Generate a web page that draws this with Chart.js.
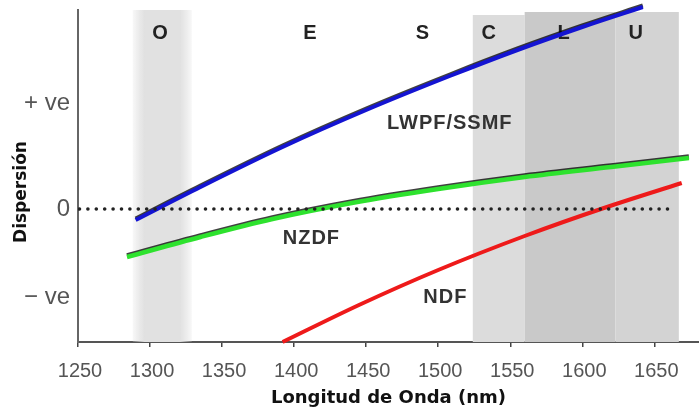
<!DOCTYPE html>
<html>
<head>
<meta charset="utf-8">
<script src="https://cdn.jsdelivr.net/npm/chart.js@4"></script>
<style>
  html, body { margin: 0; padding: 0; background: #fff; }
  #wrap { width: 699px; height: 410px; }
</style>
</head>
<body>
<div id="wrap"><canvas id="dispChart"></canvas></div>
<script>
// curves (x in nm, y in arbitrary dispersion units, 0 = zero line)
const lwpfX = [1290, 1335, 1392, 1450, 1508, 1555, 1600, 1642];
const lwpfY = [-1.1, 2.2, 6.2, 9.9, 13.3, 15.9, 18.2, 20.2];
const nzdfX = [1284, 1335, 1385, 1440, 1500, 1560, 1620, 1674];
const nzdfY = [-4.8, -2.8, -1.0, 0.6, 2.0, 3.2, 4.2, 5.1];
const ndfX = [1392, 1445, 1500, 1560, 1615, 1669];
const ndfY = [-13.3, -9.6, -6.1, -2.7, 0.1, 2.6];
const zeroX = [1251, 1663];

const xTicks = [1250, 1300, 1350, 1400, 1450, 1500, 1550, 1600, 1650];
const yTickValues = [-8.8, 0, 10.6];
const yTickLabels = ['\u2212 ve', '0', '+ ve'];

// telecom bands
const bandNames = ['O', 'E', 'S', 'C', 'L', 'U'];
const bandCenters = [1307, 1411, 1489, 1535, 1587, 1637];
const shadedBands = ['O', 'C', 'L', 'U'];
const shadedStart = [1288, 1524, 1560, 1623];
const shadedEnd = [1329, 1560, 1623, 1667];

const curveNames = ['LWPF/SSMF', 'NZDF', 'NDF'];

function pts(xs, ys) {
  return xs.map((x, i) => ({ x: x, y: ys[i] }));
}

const bandPlugin = {
  id: 'bands',
  beforeDatasetsDraw(chart) {
    const { ctx, chartArea, scales } = chart;
    const fills = { O: '#e1e1e1', C: '#dcdcdc', L: '#c9c9c9', U: '#d3d3d3' };
    const tops = { O: 0, C: 5, L: 2, U: 2 };
    ctx.save();
    shadedBands.forEach((name, i) => {
      const x0 = scales.x.getPixelForValue(shadedStart[i]);
      const x1 = scales.x.getPixelForValue(shadedEnd[i]);
      const top = chartArea.top + tops[name];
      if (name === 'O') {
        const g = ctx.createLinearGradient(x0, 0, x1, 0);
        g.addColorStop(0, 'rgba(220,220,220,0.2)');
        g.addColorStop(0.2, fills[name]);
        g.addColorStop(0.8, fills[name]);
        g.addColorStop(1, 'rgba(220,220,220,0.2)');
        ctx.fillStyle = g;
      } else {
        ctx.fillStyle = fills[name];
      }
      ctx.fillRect(x0, top, x1 - x0, chartArea.bottom - top);
    });

    ctx.fillStyle = '#222';
    ctx.font = 'bold 20px "Liberation Sans", Arial, sans-serif';
    ctx.textAlign = 'center';
    ctx.textBaseline = 'middle';
    const ly = scales.y.getPixelForValue(17.6);
    bandNames.forEach((name, i) => {
      ctx.fillText(name, scales.x.getPixelForValue(bandCenters[i]), ly);
    });

    // curve names
    const anchors = [[1508, 8.6], [1412, -2.9], [1505, -8.8]];
    ctx.fillStyle = '#333';
    ctx.font = 'bold 20px "Liberation Sans", Arial, sans-serif';
    ctx.letterSpacing = '1px';
    curveNames.forEach((name, i) => {
      ctx.fillText(name, scales.x.getPixelForValue(anchors[i][0]), scales.y.getPixelForValue(anchors[i][1]));
    });
    ctx.restore();
  },
  beforeDatasetDraw(chart, args) {
    const ds = chart.data.datasets[args.index];
    chart.ctx.save();
    if (ds.edge) {
      chart.ctx.shadowColor = 'rgba(0,0,0,0.75)';
      chart.ctx.shadowOffsetY = -1.5;
      chart.ctx.shadowBlur = 0;
    }
  },
  afterDatasetDraw(chart) {
    chart.ctx.restore();
  },
  afterDraw(chart) {
    // y axis title, sitting a little below the middle as in the original
    const { ctx } = chart;
    ctx.save();
    ctx.translate(22, 192);
    ctx.rotate(-Math.PI / 2);
    ctx.fillStyle = '#111';
    ctx.font = 'bold 17px "DejaVu Sans", Verdana, sans-serif';
    ctx.textAlign = 'center';
    ctx.textBaseline = 'middle';
    ctx.fillText('Dispersión', 0, 0);
    ctx.restore();
  }
};

const ctx = document.getElementById('dispChart').getContext('2d');
const dispChart = new Chart(ctx, {
  type: 'line',
  data: {
    datasets: [
      {
        label: 'cero',
        data: pts(zeroX, [0, 0]),
        borderColor: '#222',
        borderWidth: 3.5,
        borderDash: [0.1, 8.3],
        borderCapStyle: 'round',
        pointRadius: 0
      },
      {
        label: curveNames[0],
        data: pts(lwpfX, lwpfY),
        borderColor: '#1414d2',
        borderWidth: 4,
        cubicInterpolationMode: 'monotone',
        pointRadius: 0,
        clip: false,
        edge: true
      },
      {
        label: curveNames[1],
        data: pts(nzdfX, nzdfY),
        borderColor: '#2ee22e',
        borderWidth: 4.5,
        cubicInterpolationMode: 'monotone',
        pointRadius: 0,
        edge: true
      },
      {
        label: curveNames[2],
        data: pts(ndfX, ndfY),
        borderColor: '#ee1a1a',
        borderWidth: 4,
        cubicInterpolationMode: 'monotone',
        pointRadius: 0,
        clip: false
      }
    ]
  },
  options: {
    responsive: true,
    maintainAspectRatio: false,
    animation: false,
    layout: { padding: { top: 10, right: 0, left: 0, bottom: 0 } },
    plugins: {
      legend: { display: false },
      tooltip: { enabled: false }
    },
    scales: {
      x: {
        type: 'linear',
        min: 1250,
        max: 1681,
        afterBuildTicks: (scale) => { scale.ticks = xTicks.map(v => ({ value: v })); },
        afterFit: (scale) => {
          scale.height = 68;
          scale.paddingLeft = 0;
          scale.paddingRight = 0;
        },
        grid: { drawOnChartArea: false, drawTicks: true, tickLength: 5, color: '#444', lineWidth: 1.5 },
        border: { color: '#555', width: 2 },
        ticks: {
          color: '#555',
          padding: 12,
          labelOffset: 2,
          font: { family: '"Liberation Sans", Arial, sans-serif', size: 20 },
          callback: (v) => String(v)
        },
        title: {
          display: true,
          text: 'Longitud de Onda (nm)',
          color: '#111',
          padding: { top: 0, bottom: 1 },
          font: { family: '"DejaVu Sans", Verdana, sans-serif', size: 18, weight: 'bold' }
        }
      },
      y: {
        type: 'linear',
        min: -13.3,
        max: 19.9,
        afterBuildTicks: (scale) => { scale.ticks = yTickValues.map(v => ({ value: v })); },
        afterFit: (scale) => {
          scale.width = 78;
          scale.paddingTop = 0;
          scale.paddingBottom = 0;
        },
        grid: { display: false, drawTicks: false },
        border: { color: '#666', width: 2 },
        ticks: {
          color: '#555',
          padding: 8,
          font: { family: '"Liberation Sans", Arial, sans-serif', size: 24 },
          callback: (v) => yTickLabels[yTickValues.indexOf(v)]
        },
        title: { display: false }
      }
    }
  },
  plugins: [bandPlugin]
});
</script>
</body>
</html>
